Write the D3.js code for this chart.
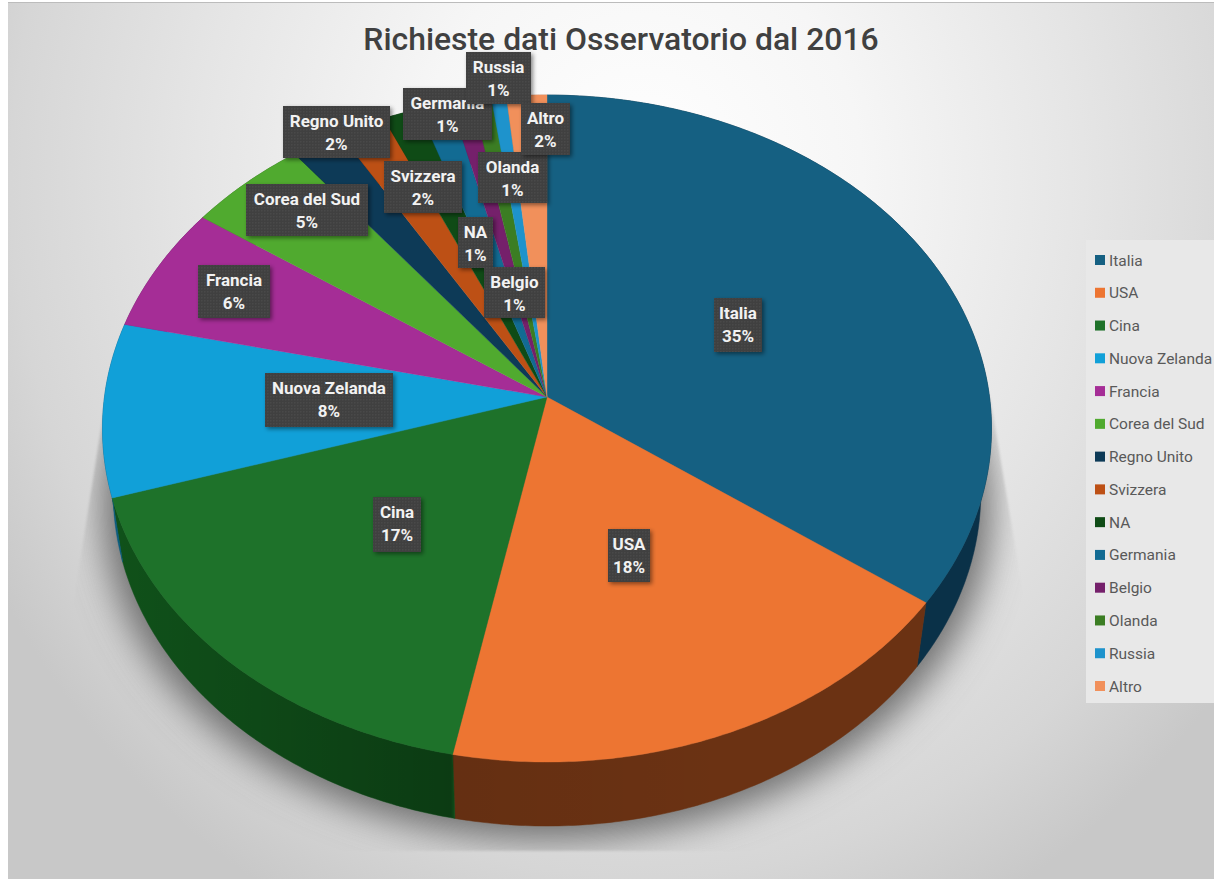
<!DOCTYPE html>
<html><head><meta charset="utf-8">
<script src="https://cdn.jsdelivr.net/npm/d3@7/dist/d3.min.js"></script>
<style>html,body{margin:0;padding:0;background:#fff}svg{display:block}</style>
</head><body><div id="chart"></div>
<script>
const titleText = "Richieste dati Osservatorio dal 2016";
const categories = ["Italia","USA","Cina","Nuova Zelanda","Francia","Corea del Sud","Regno Unito","Svizzera","NA","Germania","Belgio","Olanda","Russia","Altro"];
const shares = [35,18.1,17.1,8.4,6.1,4.8,2.03,1.9,1.45,1.3,0.87,0.75,0.6,1.6];
const topColors = ["#156082","#ED7532","#1E722A","#11A0D8","#A52D96","#50AA2F","#0D3A57","#BD5015","#0F4B16","#126B93","#75206B","#3B7D23","#1E93CC","#F1905B"];
const wallColors = ["#0A3148","#6B3213","#10521A","#0A5E80","#6A1D62","#347220","#07202F","#7A330D","#08300D","#0B4560","#4A1444","#265016","#125F85","#A05E3A"];

// Layout (not data): label box [left, top, right, bottom]
const labelBoxes = {
 "Italia":[714,298,762,352],"USA":[608,529,650,582],"Cina":[373,497,421,552],
 "Nuova Zelanda":[265,373,393,427],"Francia":[198,265,270,318],"Corea del Sud":[246,184,368,236],
 "Regno Unito":[283,106,390,158],"Svizzera":[384,161,462,213],"NA":[458,217,493,268],
 "Germania":[403,88,492,140],"Belgio":[484,267,545,318],"Olanda":[478,152,547,203],
 "Russia":[466,52,531,104],"Altro":[521,103,570,155]};

const W=1214,H=879;
const svg=d3.select("#chart").append("svg").attr("width",W).attr("height",H).attr("viewBox",`0 0 ${W} ${H}`);
const defs=svg.append("defs");

// Background
const bg=defs.append("radialGradient").attr("id","bg").attr("gradientUnits","userSpaceOnUse")
 .attr("cx",0).attr("cy",0).attr("r",1).attr("gradientTransform","translate(640,180) scale(740,820)");
[[0,"#ffffff"],[0.3,"#f6f6f6"],[0.6,"#e5e5e5"],[0.85,"#d6d6d6"],[1,"#c8c8c8"]].forEach(s=>bg.append("stop").attr("offset",s[0]).attr("stop-color",s[1]));
svg.append("rect").attr("x",8).attr("y",2).attr("width",W-8).attr("height",H-2).attr("fill","url(#bg)");
svg.append("rect").attr("x",8).attr("y",2).attr("width",W-8).attr("height",1).attr("fill","#bcbcbc");

// Perspective projection of the unit disc
const cx=547,cy=397,persp=-0.0945,yScale=293,xScale=442.5,depth=64,wallShrink=0.976;
function project(a){
  const ux=Math.sin(a),uy=-Math.cos(a),den=1+persp*uy;
  return [cx+xScale*ux/den,(yScale*uy+cy)/den];
}
function projectBase(a){
  const p=project(a);
  return [cx+(p[0]-cx)*wallShrink,p[1]+depth];
}
const line=d3.line();
const pie=d3.pie().sort(null).value(d=>d.v).startAngle(0).endAngle(2*Math.PI);
const slices=pie(categories.map((c,i)=>({c,v:shares[i],i})));
const arcAngles=(s)=>{const n=Math.max(4,Math.ceil((s.endAngle-s.startAngle)/0.01));return d3.range(n+1).map(k=>s.startAngle+(s.endAngle-s.startAngle)*k/n);};
const colorTop=d3.scaleOrdinal(categories,topColors);
const colorWall=d3.scaleOrdinal(categories,wallColors);

// Cast shadow
defs.append("filter").attr("id","blurS").attr("x","-20%").attr("y","-20%").attr("width","140%").attr("height","140%")
  .append("feGaussianBlur").attr("stdDeviation",18);
defs.append("filter").attr("id","blurClip").attr("x","-10%").attr("y","-10%").attr("width","120%").attr("height","120%")
  .append("feGaussianBlur").attr("stdDeviation",1.2);
const mask=defs.append("mask").attr("id","shadowMask").attr("maskUnits","userSpaceOnUse").attr("x",0).attr("y",0).attr("width",W).attr("height",H);
mask.append("path").attr("d",line([[106,395],[74,600],[40,851],[1060,851],[1024,600],[990,395]])+"Z").attr("fill","#fff").attr("filter","url(#blurClip)");
const full=d3.range(0,2*Math.PI+0.02,0.02);
svg.append("g").attr("mask","url(#shadowMask)").append("path")
  .attr("d",line(full.map(a=>{const p=projectBase(a);return [cx+(p[0]-cx)*1.025,p[1]+14];}))+"Z")
  .attr("fill","#6e6e6e").attr("filter","url(#blurS)");

// Side wall
const shade=defs.append("linearGradient").attr("id","wallShade").attr("gradientUnits","userSpaceOnUse")
  .attr("x1",100).attr("x2",1000).attr("y1",0).attr("y2",0);
[[0,0],[0.39,0.28],[0.394,0.06],[0.7,0],[1,0]].forEach(s=>shade.append("stop").attr("offset",s[0]).attr("stop-color","#000").attr("stop-opacity",s[1]));
const wallPath=s=>{const aa=arcAngles(s);return line(aa.map(project).concat(aa.slice().reverse().map(projectBase)))+"Z";};
const walls=svg.append("g");
walls.selectAll("path.wall").data(slices).join("path").attr("class","wall")
  .attr("d",wallPath).attr("fill",d=>colorWall(d.data.c)).attr("stroke",d=>colorWall(d.data.c)).attr("stroke-width",0.5);
walls.selectAll("path.shade").data(slices).join("path").attr("class","shade")
  .attr("d",wallPath).attr("fill","url(#wallShade)");

// Top face
svg.append("g").selectAll("path").data(slices).join("path")
  .attr("d",s=>line([[cx,cy]].concat(arcAngles(s).map(project)))+"Z")
  .attr("fill",d=>colorTop(d.data.c)).attr("stroke",d=>colorTop(d.data.c)).attr("stroke-width",0.4);

// Title
svg.append("text").attr("x",621).attr("y",50).attr("text-anchor","middle")
  .attr("font-family","Roboto, 'Open Sans', sans-serif").attr("font-weight",500).attr("font-size",31.9)
  .attr("fill","#404040").text(titleText);

// Data labels
const pat=defs.append("pattern").attr("id","dither").attr("patternUnits","userSpaceOnUse").attr("width",3).attr("height",3);
pat.append("rect").attr("width",3).attr("height",3).attr("fill","#404040");
pat.append("rect").attr("width",1.5).attr("height",1.5).attr("fill","#484848");
const sh=defs.append("filter").attr("id","boxShadow").attr("x","-30%").attr("y","-30%").attr("width","160%").attr("height","160%");
sh.append("feDropShadow").attr("dx",2).attr("dy",2).attr("stdDeviation",2).attr("flood-color","#000").attr("flood-opacity",0.45);
const labels=svg.append("g").selectAll("g").data(slices).join("g");
labels.append("rect")
  .attr("x",d=>labelBoxes[d.data.c][0]).attr("y",d=>labelBoxes[d.data.c][1])
  .attr("width",d=>labelBoxes[d.data.c][2]-labelBoxes[d.data.c][0])
  .attr("height",d=>labelBoxes[d.data.c][3]-labelBoxes[d.data.c][1])
  .attr("fill","url(#dither)").attr("filter","url(#boxShadow)");
const lab=labels.append("text").attr("text-anchor","middle").attr("fill","#f2f2f2")
  .attr("font-family","Roboto, sans-serif").attr("font-weight",700).attr("font-size",17);
lab.append("tspan").attr("x",d=>(labelBoxes[d.data.c][0]+labelBoxes[d.data.c][2])/2)
  .attr("y",d=>labelBoxes[d.data.c][1]+20.5).text(d=>d.data.c);
lab.append("tspan").attr("x",d=>(labelBoxes[d.data.c][0]+labelBoxes[d.data.c][2])/2)
  .attr("y",d=>labelBoxes[d.data.c][1]+44).text(d=>Math.round(d.data.v)+"%");

// Legend
const legendY=d3.scalePoint().domain(categories).range([260,686]);
svg.append("rect").attr("x",1086).attr("y",240).attr("width",128).attr("height",463).attr("fill","#e8e8e8");
const leg=svg.append("g").selectAll("g").data(categories).join("g").attr("transform",c=>`translate(0,${legendY(c)})`);
leg.append("rect").attr("x",1095).attr("y",-5).attr("width",10).attr("height",10).attr("fill",c=>colorTop(c));
leg.append("text").attr("x",1109).attr("y",5.5).attr("font-family","Roboto, sans-serif").attr("font-size",15.5).attr("fill","#595959").text(c=>c);
</script></body></html>
